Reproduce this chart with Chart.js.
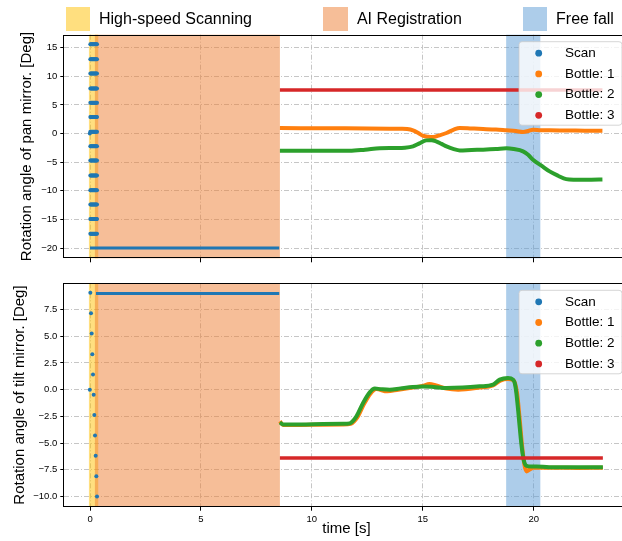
<!DOCTYPE html>
<html>
<head>
<meta charset="utf-8">
<title>Mirror rotation angles</title>
<script src="https://cdn.jsdelivr.net/npm/chart.js@4.4.1/dist/chart.umd.min.js"></script>
<style>
  html, body { margin: 0; padding: 0; background: #fff; overflow: hidden; width: 622px; height: 541px; }
  #wrap { position: relative; width: 622px; height: 541px; overflow: hidden;
          font-family: "Liberation Sans", Arial, sans-serif; }
  .pane { position: absolute; left: 0; width: 640px; }
  #topPane { top: 0; height: 270px; }
  #botPane { top: 270px; height: 271px; }
  .key { position: absolute; top: 7px; height: 24px; display: flex; align-items: center;
         font-size: 16px; color: #000; white-space: nowrap; }
  .key i { display: inline-block; width: 24.5px; height: 23.5px; margin-right: 9px; }
</style>
</head>
<body>
<div id="wrap">
  <div class="pane" id="topPane"><canvas id="panChart" width="640" height="270"></canvas></div>
  <div class="pane" id="botPane"><canvas id="tiltChart" width="640" height="271"></canvas></div>
  <div id="phaseKey"></div>
</div>
<script>
// ---- phases of the measurement (time spans in seconds) ----
const phaseNames  = ['High-speed Scanning', 'AI Registration', 'Free fall'];
const phaseStart  = [-0.05, 0.22, 18.76];
const phaseEnd    = [0.37, 8.56, 20.3];
const phaseColors = ['rgba(255,192,0,0.5)', 'rgba(237,125,49,0.5)', 'rgba(91,155,213,0.5)'];

// ---- series ----
const seriesNames  = ['Scan', 'Bottle: 1', 'Bottle: 2', 'Bottle: 3'];
const seriesColors = ['#1f77b4', '#ff7f0e', '#2ca02c', '#d62728'];

// ---- tick labels ----
const timeTicks = [0, 5, 10, 15, 20];
const panTicks  = [-20, -15, -10, -5, 0, 5, 10, 15];
const tiltTicks = [-10, -7.5, -5, -2.5, 0, 2.5, 5, 7.5];

// ---- raster scan: tilt steps over time, pan sweeps at each tilt step ----
const scanTimes  = [0.014, 0.044, 0.074, 0.104, 0.134, 0.164, 0.194, 0.224, 0.254, 0.284, 0.314];
const scanTilt   = [9.06, 7.15, 5.25, 3.31, 1.41, -0.47, -2.37, -4.28, -6.18, -8.09, -10.0];
const scanPan    = [15.6, 13.0, 10.5, 7.9, 5.4, 2.9, 0.34, -2.2, -4.7, -7.3, -9.9, -12.4, -14.9, -17.5];
const scanOriginT = [-0.01];
const scanOriginV = [0.0];
// scanner parked after the scan
const panHoldT  = [0.0, 8.53];
const panHoldV  = [-20.0, -20.0];
const tiltHoldT = [0.27, 8.53];
const tiltHoldV = [9.0, 9.0];

// ---- pan mirror angle of each bottle ----
const b1PanT = [8.56, 9.5, 10.5, 11.5, 12.5, 13.5, 14.0, 14.3, 14.56, 14.8, 15.0, 15.25, 15.47, 15.75, 16.07, 16.4, 16.67, 17.2, 17.72, 18.3, 18.77, 19.2, 19.52, 19.75, 19.97, 20.3, 20.72, 21.5, 22.3, 23.1];
const b1PanV = [0.97, 0.95, 0.93, 0.92, 0.9, 0.87, 0.85, 0.8, 0.57, 0.1, -0.36, -0.55, -0.59, -0.3, 0.11, 0.7, 0.99, 0.9, 0.81, 0.7, 0.57, 0.45, 0.29, 0.45, 0.69, 0.6, 0.57, 0.55, 0.52, 0.5];
const b2PanT = [8.56, 9.5, 10.5, 11.7, 12.4, 13.06, 13.7, 14.2, 14.56, 14.85, 15.16, 15.4, 15.6, 15.85, 16.07, 16.4, 16.67, 17.2, 17.72, 18.3, 18.77, 19.1, 19.52, 19.75, 19.97, 20.35, 20.72, 21.1, 21.47, 21.85, 22.22, 22.6, 23.1];
const b2PanV = [-3.0, -3.0, -3.0, -3.0, -2.8, -2.55, -2.5, -2.45, -2.23, -1.7, -1.18, -1.15, -1.35, -1.8, -2.23, -2.7, -2.93, -2.85, -2.8, -2.7, -2.57, -2.7, -3.1, -3.7, -4.56, -5.6, -6.6, -7.35, -7.95, -8.05, -8.06, -8.05, -8.02];
const b3PanT = [8.56, 23.1];
const b3PanV = [7.6, 7.6];

// ---- tilt mirror angle of each bottle ----
const b1TiltT = [8.56, 8.7, 9.5, 10.5, 11.4, 11.75, 12.05, 12.35, 12.65, 12.9, 13.4, 13.9, 14.56, 15.0, 15.3, 15.6, 16.07, 16.6, 17.57, 18.17, 18.5, 18.84, 19.1, 19.25, 19.38, 19.48, 19.58, 19.68, 19.8, 20.0, 20.3, 21.0, 22.0, 23.12];
const b1TiltV = [-2.95, -3.3, -3.3, -3.28, -3.27, -3.2, -2.6, -1.35, -0.35, 0.05, -0.16, 0.0, 0.2, 0.35, 0.54, 0.4, 0.1, 0.0, 0.2, 0.4, 0.85, 1.0, 0.85, -0.3, -3.0, -5.3, -7.0, -7.65, -7.5, -7.3, -7.3, -7.3, -7.32, -7.3];
const b2TiltT = [8.56, 8.7, 9.5, 10.5, 11.4, 11.71, 12.01, 12.31, 12.61, 12.84, 13.1, 13.51, 14.0, 14.56, 15.0, 15.5, 16.07, 16.8, 17.57, 18.17, 18.47, 18.84, 19.07, 19.15, 19.22, 19.34, 19.44, 19.55, 19.67, 19.9, 20.12, 20.7, 21.5, 22.3, 23.12];
const b2TiltV = [-3.06, -3.25, -3.25, -3.22, -3.2, -3.15, -2.5, -1.24, -0.25, 0.1, 0.05, 0.0, 0.12, 0.25, 0.3, 0.25, 0.16, 0.2, 0.31, 0.47, 0.94, 1.1, 0.94, 0.6, -0.31, -2.81, -4.99, -6.56, -7.12, -7.2, -7.19, -7.25, -7.25, -7.25, -7.25];
const b3TiltT = [8.56, 23.12];
const b3TiltV = [-6.4, -6.4];

// ------------------------------------------------------------------
const FONT = '"Liberation Sans", Arial, sans-serif';
Chart.defaults.font.family = FONT;
Chart.defaults.color = '#000';

const pts = (ts, vs) => ts.map((t, i) => ({ x: t, y: vs[i] }));
// every pan position of the sweep is visited at every tilt step
const sweep = (times, levels) => times.flatMap(t => levels.map(v => ({ x: t, y: v })));
const signed = (v, digits) => (v < 0 ? '\u2212' : '') + Math.abs(v).toFixed(digits);

// phase key above the plots
const keyEl = document.getElementById('phaseKey');
const keyLeft = [65.5, 323.4, 522.6];
phaseNames.forEach((n, i) => {
  const d = document.createElement('div');
  d.className = 'key';
  d.style.left = keyLeft[i] + 'px';
  const sw = document.createElement('i');
  sw.style.background = phaseColors[i];
  d.appendChild(sw);
  d.appendChild(document.createTextNode(n));
  keyEl.appendChild(d);
});

// shaded phase spans behind the data
const phasePlugin = {
  id: 'phases',
  beforeDatasetsDraw(chart) {
    const { ctx, chartArea: a, scales: { x } } = chart;
    ctx.save();
    phaseNames.forEach((n, i) => {
      const x0 = x.getPixelForValue(phaseStart[i]);
      const x1 = x.getPixelForValue(phaseEnd[i]);
      ctx.fillStyle = phaseColors[i];
      ctx.fillRect(x0, a.top, x1 - x0, a.bottom - a.top);
    });
    ctx.restore();
  }
};

// axes frame
const framePlugin = {
  id: 'frame',
  afterDatasetsDraw(chart) {
    const { ctx, chartArea: a } = chart;
    ctx.save();
    ctx.strokeStyle = '#000';
    ctx.lineWidth = 1;
    const l = Math.round(a.left) - 0.5, t = Math.round(a.top) + 0.5;
    const r = Math.round(a.right) + 0.5, b = Math.round(a.bottom) - 0.5;
    ctx.strokeRect(l, t, r - l, b - t);
    ctx.restore();
  }
};

// series key in the upper right corner of each plot
const seriesKeyPlugin = {
  id: 'seriesKey',
  afterDraw(chart) {
    const { ctx, chartArea: a } = chart;
    const w = 103, h = 83.5;
    const left = a.right - 6.6 - w, top = a.top + 7;
    ctx.save();
    ctx.beginPath();
    ctx.roundRect(left, top, w, h, 3);
    ctx.fillStyle = 'rgba(255,255,255,0.8)';
    ctx.fill();
    ctx.strokeStyle = 'rgba(204,204,204,0.8)';
    ctx.lineWidth = 1;
    ctx.stroke();
    ctx.font = '13.5px ' + FONT;
    ctx.textBaseline = 'middle';
    seriesNames.forEach((name, i) => {
      const cy = top + 11.5 + i * 20.7;
      ctx.fillStyle = seriesColors[i];
      ctx.beginPath();
      ctx.arc(left + 19.7, cy, 3.4, 0, Math.PI * 2);
      ctx.fill();
      ctx.fillStyle = '#000';
      ctx.fillText(name, left + 46, cy);
    });
    ctx.restore();
  }
};

const gridStyle = { color: '#b8b8b8', lineWidth: 0.8, tickColor: '#000', tickLength: 4, tickWidth: 1 };
const gridDash = { display: false, dash: [5, 2, 1, 2] };

function lineSet(data, color, width, order) {
  return { data, showLine: true, borderColor: color, backgroundColor: color, borderWidth: width,
           pointRadius: 0, pointHoverRadius: 0, cubicInterpolationMode: 'monotone', order };
}
function dotSet(data, color, order) {
  return { data, showLine: false, backgroundColor: color, borderColor: color, borderWidth: 0,
           pointRadius: 2, pointHoverRadius: 2, order };
}

function makeChart(canvasId, cfg) {
  return new Chart(document.getElementById(canvasId), {
    type: 'scatter',
    data: { datasets: cfg.datasets },
    options: {
      responsive: false,
      animation: false,
      events: [],
      layout: { padding: { top: cfg.padTop, right: 11.4, left: 0, bottom: 0 } },
      plugins: { legend: { display: false }, tooltip: { enabled: false } },
      scales: {
        x: {
          type: 'linear', min: -1.16, max: 24.28,
          afterBuildTicks: s => { s.ticks = timeTicks.map(v => ({ value: v })); },
          afterFit: s => { s.height = cfg.xHeight; },
          ticks: { display: cfg.showTime, font: { size: 9.5 }, color: '#000', padding: 3, maxRotation: 0 },
          grid: gridStyle,
          border: gridDash,
          title: { display: cfg.showTime, text: 'time [s]', font: { size: 15 }, color: '#000',
                   padding: { top: 0, bottom: 3 } }
        },
        y: {
          type: 'linear', min: cfg.yMin, max: cfg.yMax,
          afterBuildTicks: s => { s.ticks = cfg.yTicks.map(v => ({ value: v })); },
          afterFit: s => { s.width = 64.3; },
          ticks: { font: { size: 9.5 }, color: '#000', padding: 3, callback: cfg.yFmt },
          grid: gridStyle,
          border: gridDash,
          title: { display: true, text: cfg.yTitle, font: { size: 15 }, color: '#000',
                   padding: { top: cfg.titlePad, bottom: 0 } }
        }
      }
    },
    plugins: [phasePlugin, framePlugin, seriesKeyPlugin]
  });
}

makeChart('panChart', {
  padTop: 34.7, xHeight: 11.7, showTime: false,
  yMin: -21.78, yMax: 17.28, yTicks: panTicks, yFmt: v => signed(v, 0),
  yTitle: 'Rotation angle of pan mirror. [Deg]', titlePad: 18,
  datasets: [
    dotSet(sweep(scanTimes, scanPan).concat(pts(scanOriginT, scanOriginV)), seriesColors[0], 5),
    lineSet(pts(panHoldT, panHoldV), seriesColors[0], 3, 4),
    lineSet(pts(b1PanT, b1PanV), seriesColors[1], 4, 3),
    lineSet(pts(b2PanT, b2PanV), seriesColors[2], 4, 2),
    lineSet(pts(b3PanT, b3PanV), seriesColors[3], 3.5, 1)
  ]
});

makeChart('tiltChart', {
  padTop: 13.3, xHeight: 34.3, showTime: true,
  yMin: -10.95, yMax: 9.95, yTicks: tiltTicks, yFmt: v => signed(v, 1),
  yTitle: 'Rotation angle of tilt mirror. [Deg]', titlePad: 11,
  datasets: [
    dotSet(pts(scanTimes, scanTilt).concat(pts(scanOriginT, scanOriginV)), seriesColors[0], 5),
    lineSet(pts(tiltHoldT, tiltHoldV), seriesColors[0], 3, 4),
    lineSet(pts(b1TiltT, b1TiltV), seriesColors[1], 4, 3),
    lineSet(pts(b2TiltT, b2TiltV), seriesColors[2], 4, 2),
    lineSet(pts(b3TiltT, b3TiltV), seriesColors[3], 3.5, 1)
  ]
});
</script>
</body>
</html>
